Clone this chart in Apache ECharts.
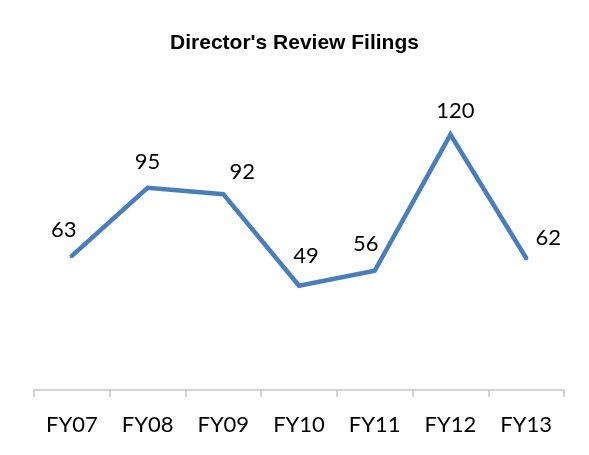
<!DOCTYPE html>
<html>
<head>
<meta charset="utf-8">
<script src="https://cdn.jsdelivr.net/npm/echarts@6/dist/echarts.min.js"></script>
<style>
  html, body { margin: 0; padding: 0; background: #fff; }
  #chart { width: 589px; height: 455px; }
</style>
</head>
<body>
<div id="chart"></div>
<script>
  // chart data
  const years = ['FY07', 'FY08', 'FY09', 'FY10', 'FY11', 'FY12', 'FY13']
  const filings = [63, 95, 92, 49, 56, 120, 62]
  // label nudges, as placed in the original
  const labelOffsets = [[-8, -2], [0, -2], [19, 2], [7, -6], [-9, -3], [5, 0], [22, 4]]

  const chart = echarts.init(document.getElementById('chart'))

  chart.setOption({
    animation: false,
    title: {
      text: "Director's Review Filings",
      left: 'center',
      top: 28,
      textStyle: {
        fontFamily: '"Liberation Sans", sans-serif',
        fontSize: 21,
        fontWeight: 'bold',
        color: '#000'
      }
    },
    grid: {
      left: 34,
      right: 25,
      top: 92,
      bottom: 65
    },
    xAxis: {
      type: 'category',
      data: years,
      boundaryGap: true,
      axisLine: { lineStyle: { color: '#c6c6c6', width: 1.5 } },
      axisTick: { show: true, length: 7, lineStyle: { color: '#c6c6c6', width: 1.5 } },
      axisLabel: {
        margin: 24,
        fontFamily: 'Lato, sans-serif',
        fontSize: 22,
        color: '#000'
      }
    },
    yAxis: {
      type: 'value',
      min: 0,
      max: 140,
      show: false,
      splitLine: { show: false }
    },
    series: [{
      type: 'line',
      data: filings.map((v, i) => ({
        value: v,
        label: { offset: labelOffsets[i] }
      })),
      symbol: 'circle',
      symbolSize: 2,
      showSymbol: true,
      itemStyle: { color: '#4a7ebb' },
      lineStyle: { color: '#4a7ebb', width: 4.5, cap: 'round', join: 'miter' },
      label: {
        show: true,
        position: 'top',
        distance: 12,
        fontFamily: 'Lato, sans-serif',
        fontSize: 22,
        color: '#000'
      }
    }]
  })
</script>
</body>
</html>
